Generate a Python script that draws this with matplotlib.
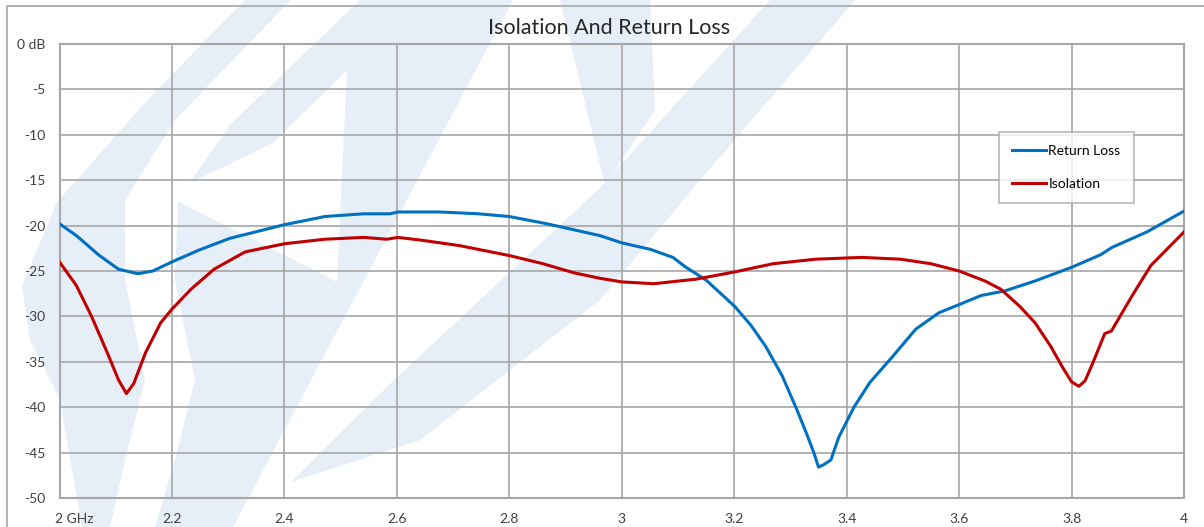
import matplotlib.pyplot as plt
from matplotlib.patches import Polygon, Rectangle
from matplotlib.transforms import ScaledTranslation

# ── data ────────────────────────────────────────────────────────────────────
rl_freq = [2.000, 2.030, 2.071, 2.105, 2.139, 2.166, 2.200, 2.248, 2.303, 2.400,
           2.472, 2.541, 2.588, 2.602, 2.677, 2.745, 2.800, 2.867, 2.961, 3.000,
           3.050, 3.091, 3.112, 3.150, 3.201, 3.230, 3.256, 3.285, 3.311, 3.328,
           3.341, 3.350, 3.360, 3.372, 3.386, 3.413, 3.441, 3.482, 3.523, 3.564,
           3.600, 3.639, 3.681, 3.735, 3.800, 3.852, 3.872, 3.934, 4.000]
rl_db = [-19.8, -21.1, -23.3, -24.8, -25.3, -25.0, -24.0, -22.7, -21.4, -19.9,
         -19.0, -18.7, -18.7, -18.5, -18.5, -18.7, -19.0, -19.8, -21.1, -21.9,
         -22.6, -23.5, -24.5, -26.0, -28.9, -31.0, -33.3, -36.5, -40.2, -42.8,
         -44.9, -46.6, -46.3, -45.8, -43.3, -40.0, -37.3, -34.4, -31.4, -29.6,
         -28.7, -27.7, -27.2, -26.1, -24.6, -23.2, -22.4, -20.7, -18.4]

iso_freq = [2.000, 2.030, 2.057, 2.085, 2.105, 2.119, 2.132, 2.153, 2.180, 2.200,
            2.234, 2.275, 2.330, 2.400, 2.472, 2.541, 2.582, 2.602, 2.643, 2.711,
            2.800, 2.860, 2.915, 2.961, 3.000, 3.057, 3.132, 3.201, 3.269, 3.345,
            3.427, 3.496, 3.550, 3.600, 3.646, 3.674, 3.708, 3.735, 3.763, 3.783,
            3.800, 3.813, 3.824, 3.838, 3.859, 3.871, 3.907, 3.941, 4.000]
iso_db = [-24.0, -26.6, -30.0, -34.0, -37.0, -38.5, -37.4, -34.0, -30.7, -29.2,
          -27.0, -24.8, -22.9, -22.0, -21.5, -21.3, -21.5, -21.3, -21.6, -22.2,
          -23.3, -24.2, -25.2, -25.8, -26.2, -26.4, -25.9, -25.1, -24.2, -23.7,
          -23.5, -23.7, -24.2, -25.0, -26.1, -27.0, -28.9, -30.7, -33.3, -35.5,
          -37.2, -37.7, -37.1, -35.1, -31.9, -31.6, -27.8, -24.4, -20.7]

x_ticks = [2.0, 2.2, 2.4, 2.6, 2.8, 3.0, 3.2, 3.4, 3.6, 3.8, 4.0]
x_labels = ["2 GHz", "2.2", "2.4", "2.6", "2.8", "3", "3.2", "3.4", "3.6", "3.8", "4"]
y_ticks = [0, -5, -10, -15, -20, -25, -30, -35, -40, -45, -50]
y_labels = ["0 dB", "-5", "-10", "-15", "-20", "-25", "-30", "-35", "-40", "-45", "-50"]

W, H = 1204, 527
plt.rcParams['font.family'] = ['Lato', 'DejaVu Sans']
grid_col = "#a6a6a6"
wm_col = "#e6eef7"

fig = plt.figure(figsize=(W / 100, H / 100), dpi=100)

# ── faint logo watermark (figure pixel coords, y down) ──────────────────────
def px_poly(pts, color):
    return Polygon([(x / W, 1 - y / H) for x, y in pts], closed=True,
                   transform=fig.transFigure, facecolor=color,
                   edgecolor="none", zorder=-5)

wm_light = [
    # outer left curve
    [(245, 0), (291, 0), (175, 120), (125, 200), (125, 280), (145, 380),
     (125, 460), (110, 527), (82, 527), (60, 400), (30, 340), (22, 286),
     (57, 202), (153, 94)],
    # bowl + stem
    [(360, 0), (513, 0), (233, 527), (155, 527), (175, 460), (195, 380),
     (175, 280), (178, 200), (230, 125)],
    # right diagonal
    [(770, 0), (855, 0), (700, 180), (600, 300), (420, 440), (291, 482),
     (394, 380), (600, 188)],
    # short upper stroke
    [(560, 0), (650, 0), (655, 110), (605, 185)],
]
for pts in wm_light:
    fig.patches.append(px_poly(pts, wm_col))
# hole of the bowl
fig.patches.append(px_poly([(347, 70), (273, 143), (165, 195), (337, 282)], "white"))

# outer chart frame
fig.patches.append(Rectangle((7 / W, -0.05), 1.1, 1.05 - 6 / H,
                             transform=fig.transFigure, facecolor="none",
                             edgecolor=grid_col, lw=1.2, zorder=-1))

ax = fig.add_axes([59.5 / W, (H - 498) / H, (1184 - 59.5) / W, (498 - 44) / H])
ax.patch.set_alpha(0)

ax.plot(rl_freq, rl_db, color="#0070c0", lw=2.2, label="Return Loss", zorder=3)
ax.plot(iso_freq, iso_db, color="#c00000", lw=2.2, label="Isolation", zorder=3)

ax.set_xlim(2, 4)
ax.set_ylim(-50, 0)
ax.set_xticks(x_ticks)
ax.set_xticklabels(x_labels)
ax.set_yticks(y_ticks)
ax.set_yticklabels(y_labels)
ax.tick_params(length=0, labelsize=10, colors="#404040")
ax.tick_params(axis="y", pad=10)
ax.tick_params(axis="x", pad=10.5)
ax.grid(True, color=grid_col, lw=1.2)
for s in ax.spines.values():
    s.set_color(grid_col)
    s.set_linewidth(1.5)

# first x label sits to the right of its tick
first = ax.get_xticklabels()[0]
first.set_ha("left")
first.set_transform(first.get_transform() + ScaledTranslation(-4.5 / 100, 0, fig.dpi_scale_trans))

fig.text(609 / W, 1 - 28 / H, "Isolation And Return Loss", ha="center", va="center",
         fontsize=15.5, color="#262626")

leg = ax.legend(loc="upper left", bbox_to_anchor=((999 - 59.5) / (1184 - 59.5), (498 - 132) / (498 - 44)),
                frameon=True, fancybox=False, fontsize=10, handlelength=2.4,
                handletextpad=0.2, labelspacing=1.5, borderpad=0.95, borderaxespad=0)
leg.get_frame().set_edgecolor(grid_col)
leg.get_frame().set_linewidth(1.2)

fig.savefig("out.png", dpi=100)
